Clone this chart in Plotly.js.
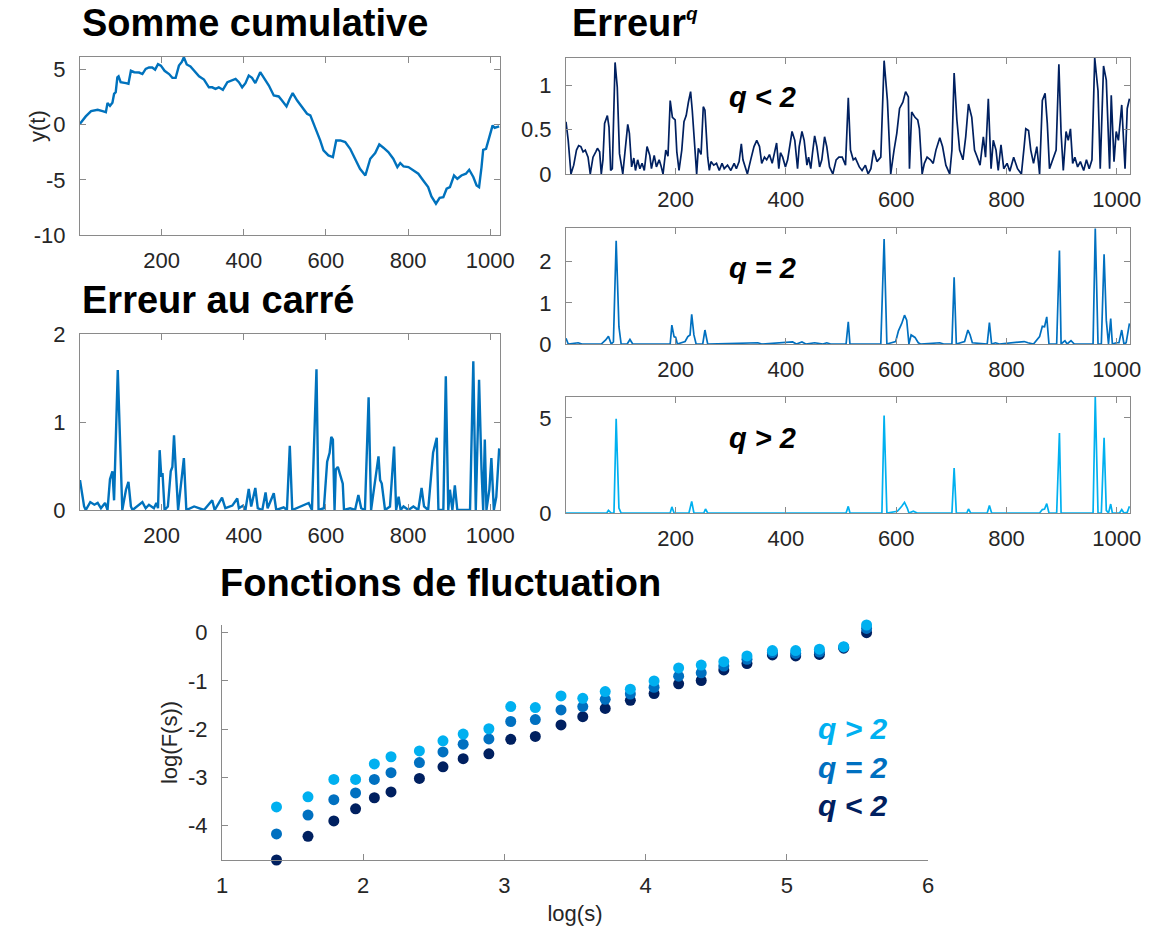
<!DOCTYPE html>
<html><head><meta charset="utf-8">
<script src="https://cdn.plot.ly/plotly-3.0.1.min.js"></script>
<style>html,body{margin:0;padding:0;background:#fff}#chart{width:1152px;height:933px}</style>
</head><body><div id="chart"></div>
<script>
// ---------- data ----------
const cumulativeSum = [[1,0.1],[15,0.76],[28,1.24],[36,1.3],[44,1.36],[56,1.24],[64,1.15],[68,1.97],[74,1.72],[80,2.0],[84,2.8],[88,2.96],[92,4.3],[95,4.4],[100,3.87],[113,3.78],[119,3.72],[125,4.9],[133,4.77],[145,4.74],[153,4.6],[161,5.07],[169,5.2],[177,5.2],[184,5.0],[191,5.5],[198,5.37],[207,4.9],[218,4.6],[226,4.26],[234,4.26],[242,5.37],[249,5.7],[254,6.13],[261,5.47],[270,5.3],[279,4.9],[291,4.4],[303,4.1],[315,3.4],[323,3.4],[331,3.26],[339,3.4],[349,3.17],[360,3.87],[372,4.08],[380,4.17],[388,3.87],[396,3.4],[404,3.78],[412,4.47],[420,4.26],[428,3.78],[440,4.77],[449,4.3],[461,3.56],[473,2.66],[485,2.57],[493,2.2],[504,1.66],[512,2.36],[519,2.87],[530,2.2],[542,1.6],[554,1.0],[562,0.85],[574,-0.21],[586,-1.42],[594,-2.33],[606,-2.78],[617,-2.93],[625,-1.42],[635,-1.42],[647,-1.57],[659,-2.18],[671,-3.08],[683,-3.99],[696,-4.6],[708,-3.08],[720,-2.57],[730,-1.78],[740,-2.08],[752,-2.48],[764,-3.08],[774,-3.84],[781,-3.47],[789,-3.78],[801,-3.84],[813,-4.14],[825,-4.44],[837,-5.05],[849,-5.65],[857,-6.5],[868,-7.16],[877,-6.62],[886,-6.56],[894,-5.8],[902,-5.65],[912,-4.6],[920,-4.9],[930,-4.6],[941,-4.44],[949,-4.08],[959,-4.74],[967,-5.5],[973,-5.65],[979,-3.84],[983,-2.27],[990,-2.18],[999,-0.97],[1006,-0.06],[1011,-0.27],[1022,-0.15]];

const squaredError = [[1,0.34],[11,0.04],[15,0],[26,0.09],[36,0.06],[44,0.08],[52,0.02],[62,0.08],[68,0],[74,0.35],[80,0.44],[84,0.11],[93,1.59],[100,0.65],[104,0],[113,0.23],[119,0.32],[125,0.04],[129,0],[153,0.09],[161,0.02],[169,0.06],[181,0.02],[187,0.08],[191,0.02],[195,0.68],[199,0.38],[202,0.42],[207,0],[215,0.04],[222,0.44],[226,0.49],[230,0.85],[234,0.49],[240,0],[250,0.42],[254,0.59],[260,0],[279,0.04],[303,0],[323,0.11],[329,0],[347,0.14],[355,0.02],[372,0.05],[384,0.13],[388,0.02],[398,0.05],[404,0],[412,0.24],[418,0.04],[428,0.25],[434,0.02],[445,0],[453,0.2],[458,0.02],[473,0.19],[479,0],[497,0.03],[505,0],[512,0.73],[518,0],[558,0.08],[566,0],[577,1.6],[582,0],[595,0.02],[603,0.55],[609,0.65],[613,0.83],[617,0.8],[621,0],[624,0.46],[629,0.49],[635,0.38],[641,0.3],[644,0],[659,0.02],[671,0],[679,0.17],[686,0.02],[695,0],[704,1.28],[710,0],[728,0.61],[732,0.34],[736,0.3],[744,0],[756,0.04],[766,0.72],[771,0],[777,0.15],[782,0],[789,0.04],[801,0],[813,0.04],[825,0],[833,0.25],[839,0.04],[849,0],[861,0.65],[870,0.82],[874,0],[886,0],[892,1.52],[898,0],[902,0.23],[908,0],[914,0.28],[920,0],[951,0],[959,1.69],[965,0],[973,1.48],[979,0.46],[983,0],[987,0.8],[991,0],[998,0.23],[1003,0.59],[1009,0],[1015,0.15],[1022,0.7]];

const errorQLow = [[1,0.59],[5,0.38],[10,0],[15,0.1],[20,0.27],[24,0.32],[28,0.31],[32,0.25],[36,0.27],[41,0.19],[45,0],[50,0.19],[55,0.25],[58,0.29],[62,0.25],[65,0],[68,0.16],[71,0.57],[76,0.66],[79,0.53],[82,0.04],[85,0.06],[90,1.26],[94,0.98],[98,0.23],[104,0],[108,0.25],[113,0.56],[116,0.46],[120,0.08],[124,0.18],[127,0.04],[131,0.16],[135,0.06],[139,0.12],[143,0.04],[148,0.31],[153,0.21],[156,0.06],[161,0.21],[165,0.08],[170,0.16],[173,0.1],[177,0],[182,0.27],[186,0.2],[190,0.83],[194,0.64],[199,0.61],[202,0.25],[206,0.04],[211,0.27],[215,0.59],[219,0.66],[223,0.81],[227,0.93],[230,0.72],[234,0.31],[238,0],[241,0.29],[246,0.22],[250,0.76],[253,0.72],[258,0.19],[261,0.04],[264,0.14],[269,0.1],[274,0.12],[279,0.04],[284,0.12],[288,0.06],[294,0.1],[300,0.04],[306,0.12],[310,0.06],[315,0.14],[319,0.34],[322,0.16],[330,0],[336,0.16],[342,0.31],[347,0.38],[352,0.31],[356,0.12],[361,0.19],[365,0.16],[370,0.22],[375,0.12],[379,0.23],[383,0.35],[387,0.06],[390,0.24],[394,0.19],[399,0.08],[403,0.16],[407,0.33],[411,0.48],[416,0.38],[421,0.06],[424,0.31],[429,0.48],[433,0.38],[438,0.1],[441,0.19],[445,0.06],[448,0.23],[452,0.43],[456,0.31],[461,0.08],[465,0.16],[470,0.42],[474,0.31],[479,0.08],[485,0],[491,0.16],[496,0.19],[502,0.19],[508,0.1],[513,0.86],[517,0.27],[522,0.16],[526,0.18],[533,0.08],[538,0.04],[544,0.1],[549,0],[554,0.06],[559,0.27],[565,0.14],[572,0.19],[578,1.28],[584,0.83],[590,0],[596,0.27],[601,0.46],[606,0.74],[612,0.81],[617,0.93],[622,0.87],[624,0.06],[628,0.7],[634,0.64],[639,0.61],[642,0.51],[647,0],[651,0.12],[656,0.19],[662,0.16],[667,0.12],[672,0.27],[679,0.41],[684,0.31],[690,0.1],[697,0],[701,0.27],[705,1.14],[710,0.61],[715,0.27],[721,0.16],[726,0.42],[731,0.79],[737,0.64],[742,0.27],[747,0.19],[752,0.1],[758,0.42],[762,0.19],[767,0.85],[772,0.06],[776,0.38],[781,0.27],[785,0.04],[790,0.33],[795,0.06],[801,0.12],[806,0.03],[813,0.19],[820,0.06],[827,0],[832,0.31],[835,0.51],[840,0.49],[844,0.27],[849,0.12],[855,0.31],[860,0],[865,0.83],[870,0.91],[874,0.57],[878,0.06],[884,0.16],[890,0.27],[895,1.24],[899,0.46],[903,0.04],[908,0.48],[912,0.38],[916,0.51],[920,0.12],[924,0.19],[929,0.08],[934,0.14],[940,0.04],[945,0.16],[950,0.06],[955,0.16],[960,1.31],[966,0.94],[970,0.06],[976,1.22],[981,1.06],[987,0.06],[990,0.89],[995,0.14],[999,0.48],[1003,0.38],[1009,0.78],[1015,0.06],[1019,0.74],[1023,0.85]];

const errorQ2 = [[1,0.14],[5,0],[23,0.03],[30,0],[65,0],[73,0.1],[78,0.19],[83,0],[87,0.05],[92,2.51],[97,0.42],[101,0],[112,0],[117,0.11],[122,0],[190,0],[193,0.46],[197,0.18],[200,0.16],[203,0],[217,0.06],[222,0.18],[226,0.22],[229,0.72],[233,0.22],[237,0],[249,0],[253,0.34],[258,0],[349,0.03],[356,0],[384,0.02],[412,0.05],[419,0],[429,0.05],[436,0],[452,0.03],[467,0],[474,0.03],[481,0],[509,0],[513,0.54],[516,0],[572,0],[578,2.55],[583,0],[599,0.06],[604,0.32],[610,0.5],[615,0.7],[619,0.58],[623,0],[627,0.22],[634,0.16],[640,0.03],[644,0],[679,0.03],[686,0],[701,0],[705,1.62],[709,0],[724,0.06],[730,0.34],[734,0.22],[738,0.03],[765,0],[769,0.52],[773,0],[780,0.03],[787,0],[832,0.06],[839,0.03],[849,0],[860,0.18],[865,0.43],[869,0.42],[873,0.66],[877,0],[891,0],[896,2.27],[899,0],[906,0.08],[910,0],[917,0.08],[923,0],[957,0],[961,2.81],[966,0],[972,0],[977,2.18],[981,0.58],[985,0],[989,0.62],[992,0],[999,0.03],[1004,0.03],[1009,0.34],[1013,0],[1017,0.03],[1023,0.5]];

const errorQHigh = [[1,0],[75,0],[78,0.14],[83,0],[88,0],[92,4.95],[97,0.26],[101,0],[190,0],[193,0.32],[197,0],[224,0],[229,0.61],[233,0],[251,0],[254,0.21],[258,0],[509,0],[513,0.35],[516,0],[574,0],[578,5.12],[583,0],[602,0.09],[610,0.35],[615,0.56],[620,0.26],[623,0],[631,0.09],[638,0],[701,0],[705,2.37],[709,0],[728,0],[731,0.21],[735,0],[765,0],[769,0.39],[773,0],[860,0],[865,0.18],[869,0.21],[873,0.49],[877,0],[891,0],[896,4.21],[899,0],[957,0],[961,6.1],[966,0],[972,0],[977,3.95],[981,0.14],[985,0],[989,0.47],[992,0],[1005,0],[1009,0.18],[1013,0],[1019,0.04],[1023,0.35]];

const logS = [1.386,1.609,1.792,1.946,2.079,2.197,2.398,2.565,2.708,2.890,3.045,3.219,3.401,3.555,3.714,3.892,4.060,4.234,4.394,4.554,4.718,4.898,5.063,5.231,5.403,5.565];
const logFqHigh = [-3.61,-3.40,-3.04,-3.04,-2.72,-2.57,-2.45,-2.24,-2.10,-1.99,-1.53,-1.55,-1.31,-1.36,-1.22,-1.17,-1.00,-0.73,-0.67,-0.60,-0.48,-0.37,-0.37,-0.34,-0.29,0.16];
const logFq2 = [-4.17,-3.78,-3.46,-3.32,-3.04,-2.90,-2.69,-2.47,-2.31,-2.20,-1.84,-1.80,-1.60,-1.53,-1.38,-1.27,-1.13,-0.90,-0.83,-0.69,-0.55,-0.41,-0.43,-0.40,-0.30,0.09];
const logFqLow = [-4.71,-4.22,-3.90,-3.65,-3.42,-3.30,-3.02,-2.78,-2.61,-2.51,-2.21,-2.15,-1.91,-1.74,-1.57,-1.40,-1.26,-1.06,-0.99,-0.77,-0.64,-0.46,-0.48,-0.45,-0.32,0.00];

const timeTicks = [200,400,600,800,1000];
const logSTicks = [1,2,3,4,5,6];
const logFTicks = [-4,-3,-2,-1,0];

// ---------- styling ----------
const FONT = 'Liberation Sans, Arial, Helvetica, sans-serif';
const C_DEFAULT = '#0072BD', C_DARK = '#002060', C_MID = '#0070C0', C_LIGHT = '#00B0F0';
const W = 1152, H = 933;
const dx = (l, r) => [l / W, r / W];
const dy = (t, b) => [1 - b / H, 1 - t / H];

function axis(extra) {
  return Object.assign({
    showline: true, linecolor: '#8a8a8a', linewidth: 1, mirror: 'ticks',
    ticks: 'inside', ticklen: 6, tickwidth: 1, tickcolor: '#8a8a8a',
    showgrid: false, zeroline: false, fixedrange: true,
    tickfont: {family: FONT, size: 22, color: '#262626'}
  }, extra);
}
const xs = p => p.map(d => d[0]);
const ys = p => p.map(d => d[1]);

const traces = [
  {x: xs(cumulativeSum), y: ys(cumulativeSum), xaxis: 'x', yaxis: 'y', mode: 'lines', line: {color: C_DEFAULT, width: 2.4}},
  {x: xs(squaredError), y: ys(squaredError), xaxis: 'x2', yaxis: 'y2', mode: 'lines', line: {color: C_DEFAULT, width: 2.4}},
  {x: xs(errorQLow), y: ys(errorQLow), xaxis: 'x3', yaxis: 'y3', mode: 'lines', line: {color: C_DARK, width: 1.7}},
  {x: xs(errorQ2), y: ys(errorQ2), xaxis: 'x4', yaxis: 'y4', mode: 'lines', line: {color: C_MID, width: 1.7}},
  {x: xs(errorQHigh), y: ys(errorQHigh), xaxis: 'x5', yaxis: 'y5', mode: 'lines', line: {color: C_LIGHT, width: 1.7}},
  {x: logS, y: logFqLow, xaxis: 'x6', yaxis: 'y6', mode: 'markers', cliponaxis: false, marker: {size: 11, color: C_DARK}},
  {x: logS, y: logFq2, xaxis: 'x6', yaxis: 'y6', mode: 'markers', cliponaxis: false, marker: {size: 11, color: C_MID}},
  {x: logS, y: logFqHigh, xaxis: 'x6', yaxis: 'y6', mode: 'markers', cliponaxis: false, marker: {size: 11, color: C_LIGHT}}
];

const tX = {tickmode: 'array', tickvals: timeTicks, ticktext: timeTicks.map(String), range: [1, 1024], ticklabelstandoff: 6};

const layout = {
  width: W, height: H, margin: {l: 0, r: 0, t: 0, b: 0},
  paper_bgcolor: '#fff', plot_bgcolor: '#fff', showlegend: false,
  font: {family: FONT, color: '#262626'},
  xaxis:  axis(Object.assign({}, tX, {domain: dx(80, 500), anchor: 'y'})),
  yaxis:  axis({domain: dy(57, 235), anchor: 'x', range: [-10, 6.15], tickvals: [-10, -5, 0, 5], ticktext: ['-10','-5','0','5'], ticklabelstandoff: 9}),
  xaxis2: axis(Object.assign({}, tX, {domain: dx(80, 500), anchor: 'y2'})),
  yaxis2: axis({domain: dy(334, 510), anchor: 'x2', range: [0, 2], tickvals: [0, 1, 2], ticktext: ['0','1','2'], ticklabelstandoff: 9}),
  xaxis3: axis(Object.assign({}, tX, {domain: dx(566, 1130), anchor: 'y3'})),
  yaxis3: axis({domain: dy(58, 174), anchor: 'x3', range: [0, 1.31], tickvals: [0, 0.5, 1], ticktext: ['0','0.5','1'], ticklabelstandoff: 9}),
  xaxis4: axis(Object.assign({}, tX, {domain: dx(566, 1130), anchor: 'y4'})),
  yaxis4: axis({domain: dy(228, 344), anchor: 'x4', range: [0, 2.82], tickvals: [0, 1, 2], ticktext: ['0','1','2'], ticklabelstandoff: 9}),
  xaxis5: axis(Object.assign({}, tX, {domain: dx(566, 1130), anchor: 'y5'})),
  yaxis5: axis({domain: dy(397, 513), anchor: 'x5', range: [0, 6.1], tickvals: [0, 5], ticktext: ['0','5'], ticklabelstandoff: 9}),
  xaxis6: axis({domain: dx(222, 928), anchor: 'y6', mirror: false, range: [1, 6], tickvals: logSTicks, ticktext: logSTicks.map(String), ticklabelstandoff: 6,
    title: {text: 'log(s)', standoff: 8, font: {family: FONT, size: 22, color: '#262626'}}}),
  yaxis6: axis({domain: dy(625, 860), anchor: 'x6', mirror: false, range: [-4.71, 0.16], tickvals: logFTicks, ticktext: logFTicks.map(String), ticklabelstandoff: 9,
    title: {text: 'log(F(s))', standoff: 4, font: {family: FONT, size: 22, color: '#262626'}}}),
  annotations: [
    {text: '<b>Somme cumulative</b>', x: 80 / W, y: 1 - 23 / H},
    {text: '<b>Erreur<sup><span style="font-size:19px"><i>q</i></span></sup></b>', x: 570 / W, y: 1 - 23 / H},
    {text: '<b>Erreur au carré</b>', x: 80 / W, y: 1 - 300 / H},
    {text: '<b>Fonctions de fluctuation</b>', x: 218 / W, y: 1 - 583 / H}
  ].map(a => Object.assign({xref: 'paper', yref: 'paper', xanchor: 'left', yanchor: 'middle', showarrow: false,
      font: {family: FONT, size: 38, color: '#000'}}, a)).concat([
    {text: '<b><i>q &lt; 2</i></b>', x: 762 / W, y: 1 - 97 / H},
    {text: '<b><i>q = 2</i></b>', x: 762 / W, y: 1 - 268 / H},
    {text: '<b><i>q &gt; 2</i></b>', x: 762 / W, y: 1 - 438 / H}
  ].map(a => ({xref: 'paper', yref: 'paper', xanchor: 'center', yanchor: 'middle', showarrow: false, text: a.text, x: a.x, y: a.y,
      font: {family: FONT, size: 29, color: '#000'}}))).concat([
    {text: '<b><i>q &gt; 2</i></b>', y: 728, color: C_LIGHT},
    {text: '<b><i>q = 2</i></b>', y: 767, color: C_MID},
    {text: '<b><i>q &lt; 2</i></b>', y: 805, color: C_DARK}
  ].map(a => ({xref: 'paper', yref: 'paper', xanchor: 'left', yanchor: 'middle', showarrow: false, text: a.text, x: 816 / W, y: 1 - a.y / H,
      font: {family: FONT, size: 30, color: a.color}}))).concat([
    {xref: 'paper', yref: 'paper', x: 38 / W, y: 1 - 126 / H, text: 'y(t)', textangle: -90, showarrow: false,
     xanchor: 'center', yanchor: 'middle', font: {family: FONT, size: 22, color: '#262626'}}
  ])
};

Plotly.newPlot('chart', traces, layout, {staticPlot: true, displayModeBar: false});
</script>
</body></html>
